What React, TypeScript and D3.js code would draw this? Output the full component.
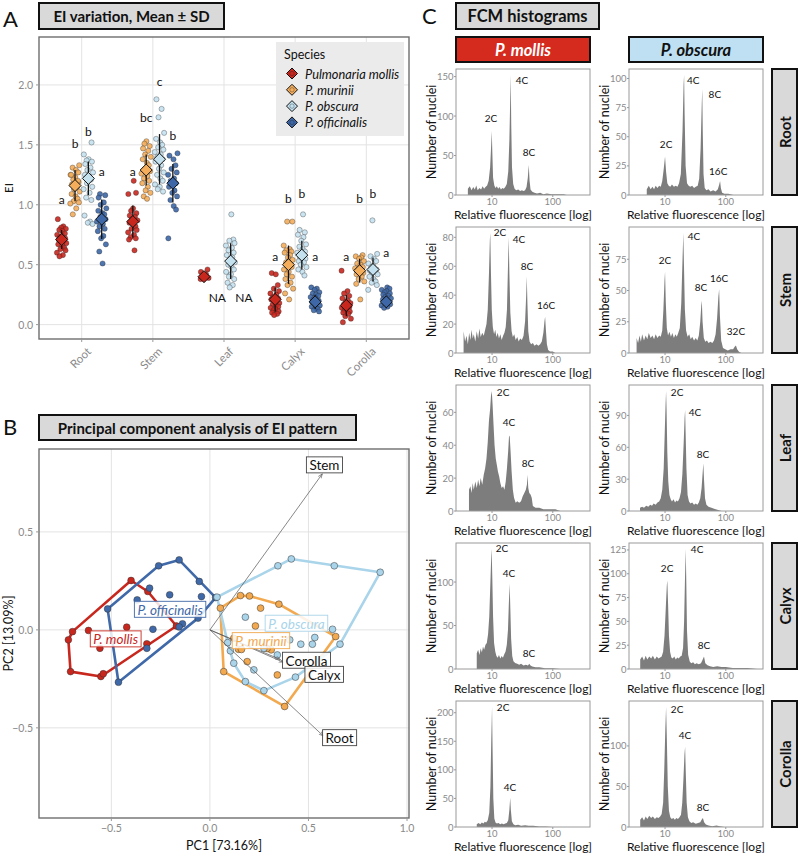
import React from 'react';
import * as d3 from 'd3';

const FONT = "Lato, 'Open Sans', sans-serif";

// ================= Panel A data =================
const organs = ['Root', 'Stem', 'Leaf', 'Calyx', 'Corolla'];
const species = ['Pulmonaria mollis', 'P. murinii', 'P. obscura', 'P. officinalis'];
const speciesFill = ['#c8271e', '#f3ad5b', '#c4e1f0', '#3d67a6'];
const eiTicks = [0, 0.5, 1, 1.5, 2];

const rootMollis = [0.88, 0.82, 0.81, 0.8, 0.79, 0.78, 0.76, 0.75, 0.74, 0.73, 0.72, 0.71, 0.7, 0.69, 0.68, 0.67, 0.66, 0.64, 0.63, 0.62, 0.6, 0.58, 0.57];
const rootMurinii = [1.33, 1.31, 1.29, 1.27, 1.25, 1.23, 1.21, 1.19, 1.17, 1.15, 1.13, 1.11, 1.09, 1.07, 1.05, 1.03, 1.02, 1.01, 0.97, 0.92, 1.2, 1.25];
const rootObscura = [1.52, 1.42, 1.38, 1.37, 1.36, 1.34, 1.31, 1.29, 1.27, 1.25, 1.23, 1.21, 1.18, 1.15, 1.13, 1.1, 1.06, 1.04, 0.91, 0.86, 0.85, 0.84];
const rootOfficinalis = [1.09, 1.08, 1.06, 1.02, 1.0, 0.97, 0.95, 0.93, 0.92, 0.9, 0.88, 0.86, 0.84, 0.82, 0.8, 0.78, 0.74, 0.72, 0.67, 0.61, 0.51];
const stemMollis = [1.2, 1.1, 1.09, 0.97, 0.95, 0.93, 0.91, 0.9, 0.88, 0.87, 0.85, 0.84, 0.82, 0.8, 0.79, 0.77, 0.75, 0.73, 0.72, 0.71, 0.62];
const stemMurinii = [1.53, 1.51, 1.49, 1.47, 1.45, 1.42, 1.4, 1.38, 1.35, 1.33, 1.3, 1.28, 1.26, 1.24, 1.22, 1.2, 1.18, 1.15, 1.12, 1.1, 1.07, 1.05];
const stemObscura = [1.88, 1.8, 1.73, 1.6, 1.55, 1.52, 1.5, 1.48, 1.46, 1.44, 1.42, 1.4, 1.38, 1.36, 1.33, 1.3, 1.27, 1.25, 1.22, 1.2, 1.17, 1.15, 1.13, 1.11];
const stemOfficinalis = [1.43, 1.41, 1.38, 1.33, 1.3, 1.27, 1.25, 1.22, 1.2, 1.18, 1.15, 1.12, 1.1, 1.07, 1.04, 0.99, 0.96, 0.72];
const leafMollis = [0.46, 0.44, 0.42, 0.4, 0.39, 0.38];
const leafObscura = [0.92, 0.71, 0.7, 0.68, 0.66, 0.64, 0.62, 0.6, 0.58, 0.56, 0.54, 0.52, 0.5, 0.48, 0.46, 0.44, 0.42, 0.4, 0.38, 0.35, 0.33, 0.31];
const calyxMollis = [0.43, 0.42, 0.33, 0.3, 0.28, 0.26, 0.25, 0.23, 0.22, 0.21, 0.2, 0.19, 0.18, 0.17, 0.16, 0.15, 0.14, 0.13, 0.12, 0.11, 0.1, 0.09, 0.08];
const calyxMurinii = [0.86, 0.86, 0.66, 0.63, 0.62, 0.61, 0.6, 0.58, 0.56, 0.54, 0.52, 0.5, 0.48, 0.46, 0.44, 0.42, 0.4, 0.38, 0.35, 0.33, 0.3, 0.26, 0.21];
const calyxObscura = [0.92, 0.79, 0.77, 0.75, 0.73, 0.7, 0.67, 0.65, 0.63, 0.61, 0.6, 0.58, 0.56, 0.55, 0.53, 0.52, 0.5, 0.48, 0.46, 0.44, 0.41];
const calyxOfficinalis = [0.31, 0.3, 0.29, 0.27, 0.26, 0.25, 0.24, 0.23, 0.22, 0.21, 0.2, 0.19, 0.18, 0.17, 0.16, 0.15, 0.14, 0.13, 0.12, 0.11];
const corollaMollis = [0.45, 0.28, 0.26, 0.24, 0.22, 0.2, 0.19, 0.18, 0.17, 0.16, 0.15, 0.14, 0.13, 0.12, 0.11, 0.1, 0.09, 0.07, 0.05, 0.02];
const corollaMurinii = [0.58, 0.57, 0.56, 0.55, 0.53, 0.51, 0.5, 0.48, 0.47, 0.45, 0.44, 0.43, 0.42, 0.4, 0.38, 0.36, 0.34, 0.21];
const corollaObscura = [0.87, 0.59, 0.57, 0.55, 0.53, 0.51, 0.49, 0.48, 0.46, 0.45, 0.44, 0.43, 0.42, 0.4, 0.38, 0.36, 0.35, 0.33, 0.29];
const corollaOfficinalis = [0.31, 0.3, 0.29, 0.28, 0.27, 0.26, 0.25, 0.24, 0.23, 0.22, 0.21, 0.2, 0.19, 0.18, 0.17, 0.16, 0.15, 0.14];

const meanRoot = [0.71, 1.16, 1.22, 0.88];
const meanStem = [0.86, 1.29, 1.38, 1.18];
const meanLeaf = [0.4, null, 0.53, null];
const meanCalyx = [0.21, 0.5, 0.58, 0.19];
const meanCorolla = [0.16, 0.45, 0.46, 0.19];
const sdRoot = [0.08, 0.13, 0.14, 0.165];
const sdStem = [0.135, 0.13, 0.21, 0.16];
const sdLeaf = [0.03, null, 0.15, null];
const sdCalyx = [0.1, 0.16, 0.12, 0.06];
const sdCorolla = [0.09, 0.1, 0.1, 0.05];
const letterRoot = ['a', 'b', 'b', 'a'];
const letterStem = ['a', 'bc', 'c', 'b'];
const letterCalyx = ['a', 'b', 'b', 'a'];
const letterCorolla = ['a', 'b', 'b', 'a'];
const letterYRoot = [1.04, 1.51, 1.61, 1.28];
const letterYStem = [1.28, 1.73, 2.03, 1.575];
const letterYCalyx = [0.57, 1.05, 1.09, 0.57];
const letterYCorolla = [0.57, 1.05, 1.09, 0.6];
const naY = 0.225;

const eiData = [
  [rootMollis, rootMurinii, rootObscura, rootOfficinalis],
  [stemMollis, stemMurinii, stemObscura, stemOfficinalis],
  [leafMollis, null, leafObscura, null],
  [calyxMollis, calyxMurinii, calyxObscura, calyxOfficinalis],
  [corollaMollis, corollaMurinii, corollaObscura, corollaOfficinalis],
];
const eiMean = [meanRoot, meanStem, meanLeaf, meanCalyx, meanCorolla];
const eiSd = [sdRoot, sdStem, sdLeaf, sdCalyx, sdCorolla];
const eiLetters = [letterRoot, letterStem, null, letterCalyx, letterCorolla];
const eiLetterY = [letterYRoot, letterYStem, null, letterYCalyx, letterYCorolla];

// fixed horizontal jitter pattern (px) for the dot strips
const JIT = [-3.5, 1.5, -0.5, 3.8, -2.2, 0.8, 2.9, -4.1, 0.2, -1.6, 3.2, -2.8, 1.9, -0.9, 4.2, -3.1, 0.6, 2.4, -1.2, 3.5, -4.3, 1.1, -2.0, 2.7];

// ================= Panel B data (PCA) =================
const pcaNames = ['P. mollis', 'P. murinii', 'P. obscura', 'P. officinalis'];
const pcaColors = ['#c8271e', '#f2a94f', '#a9d4ea', '#3f69a8'];
const pcaMollis = [[-0.4, 0.252], [-0.315, 0.196], [-0.697, -0.009], [-0.718, -0.051], [-0.707, -0.213], [-0.553, -0.238], [-0.541, -0.224], [-0.616, -0.003], [-0.558, -0.094], [-0.422, 0.014], [-0.32, -0.071], [-0.17, 0.02]];
const pcaMurinii = [[0.053, 0.111], [0.155, 0.175], [0.201, 0.173], [0.35, 0.131], [0.257, 0.111], [0.231, 0.02], [0.638, -0.034], [0.379, -0.391], [0.07, -0.213], [0.342, -0.23], [0.189, -0.162], [0.145, -0.099], [0.311, -0.102], [0.121, -0.043], [0.29, -0.095], [0.16, -0.1]];
const pcaObscura = [[0.036, 0.167], [0.345, 0.327], [0.413, 0.362], [0.631, 0.327], [0.864, 0.294], [0.66, -0.073], [0.434, -0.241], [0.274, -0.31], [0.18, -0.264], [0.121, -0.17], [0.104, -0.107], [0.09, -0.065], [0.18, 0.065], [0.622, 0.003], [0.532, -0.039], [0.52, -0.073], [0.461, -0.073], [0.405, -0.051], [0.342, -0.128], [0.274, -0.094], [0.223, -0.204]];
const pcaOfficinalis = [[-0.519, 0.107], [-0.26, 0.327], [-0.156, 0.357], [-0.054, 0.247], [0.029, 0.165], [-0.06, 0.06], [-0.139, 0.031], [-0.156, 0.015], [-0.32, -0.094], [-0.464, -0.267], [-0.306, 0.213], [-0.204, 0.179], [-0.043, 0.17], [-0.369, 0.153], [-0.289, 0.003]];
const pcaPoints = [pcaMollis, pcaMurinii, pcaObscura, pcaOfficinalis];
const pcaLabelPos = [[-0.478, -0.046], [0.259, -0.055], [0.439, 0.034], [-0.202, 0.105]];
const loadOrgans = ['Stem', 'Corolla', 'Calyx', 'Root'];
const loadPC1 = [0.57, 0.372, 0.355, 0.575];
const loadPC2 = [0.796, -0.165, -0.15, -0.541];
const loadLabelPos = [[0.581, 0.842], [0.49, -0.155], [0.58, -0.227], [0.658, -0.55]];
const pcTicksX = [-0.5, 0, 0.5, 1.0];
const pcTicksY = [-0.5, 0, 0.5];

// ================= Panel C data (FCM histograms) =================
const histOrgans = ['Root', 'Stem', 'Leaf', 'Calyx', 'Corolla'];
const histSpecies = ['P. mollis', 'P. obscura'];
const hRootMollis = [[4.0, 0], [4.0, 8], [4.3, 11], [4.6, 6], [4.9, 10], [5.2, 7], [5.5, 12], [5.8, 6], [6.2, 9], [6.6, 7], [7.0, 11], [7.4, 8], [7.8, 10], [8.3, 12], [8.8, 18], [9.3, 35], [9.7, 65], [9.9, 81], [10.1, 55], [10.4, 22], [10.9, 12], [11.4, 9], [12.0, 11], [12.6, 8], [13.3, 10], [14.0, 7], [14.8, 9], [15.6, 8], [16.5, 10], [17.5, 14], [18.5, 30], [19.3, 70], [19.9, 120], [20.3, 152], [20.7, 90], [21.3, 35], [22.3, 14], [23.5, 8], [25, 6], [27, 7], [29, 5], [31, 6], [33, 5], [35, 6], [37, 10], [38.8, 22], [40.2, 38], [41.5, 18], [43, 7], [46, 4], [50, 3], [55, 2], [62, 3], [70, 1], [80, 2], [95, 1], [120, 1], [150, 1], [170, 0]];
const hRootObscura = [[5.0, 0], [5.0, 5], [5.4, 8], [5.8, 5], [6.2, 7], [6.6, 5], [7.0, 8], [7.5, 6], [8.0, 8], [8.5, 7], [9.0, 12], [9.5, 22], [10.0, 33], [10.4, 20], [10.9, 10], [11.5, 8], [12.2, 7], [13, 9], [14, 7], [15, 8], [16, 7], [17, 10], [18.2, 18], [19.4, 55], [20.2, 95], [20.6, 103], [21, 70], [21.8, 25], [23, 10], [24.5, 8], [26, 7], [28, 8], [30, 6], [32, 7], [34.5, 8], [36.5, 14], [38.5, 40], [40.3, 80], [41, 91], [41.8, 55], [43, 18], [45, 6], [48, 4], [52, 5], [56, 3], [62, 4], [68, 3], [74, 5], [78, 9], [80.6, 12], [83, 6], [87, 2], [95, 1], [110, 1], [133, 0]];
const hStemMollis = [[3.4, 0], [3.4, 15], [3.6, 8], [3.8, 12], [4.0, 6], [4.2, 14], [4.4, 9], [4.6, 16], [4.8, 10], [5.0, 13], [5.3, 8], [5.6, 15], [5.9, 10], [6.2, 17], [6.5, 11], [6.9, 14], [7.3, 12], [7.7, 16], [8.1, 20], [8.5, 30], [8.9, 55], [9.2, 78], [9.35, 83], [9.6, 55], [9.9, 30], [10.3, 18], [10.8, 13], [11.3, 16], [11.8, 11], [12.4, 14], [13, 10], [13.7, 13], [14.4, 9], [15.2, 12], [16, 14], [16.8, 18], [17.6, 30], [18.3, 60], [18.8, 80], [19.3, 55], [20, 28], [21, 15], [22, 11], [23.2, 13], [24.5, 9], [26, 11], [27.5, 8], [29, 10], [31, 9], [33, 12], [35, 22], [36.5, 40], [37.3, 53], [38.2, 35], [39.5, 15], [41.5, 8], [44, 6], [47, 7], [50, 5], [54, 6], [58, 5], [62, 6], [66, 8], [70, 14], [73, 22], [74.8, 25], [77, 16], [80, 6], [84, 2], [90, 1], [100, 1], [110, 0]];
const hStemObscura = [[3.4, 0], [3.4, 12], [3.6, 8], [3.8, 14], [4.0, 9], [4.2, 15], [4.5, 10], [4.8, 14], [5.1, 11], [5.4, 16], [5.8, 12], [6.2, 14], [6.6, 11], [7.0, 15], [7.5, 12], [8.0, 14], [8.5, 13], [9.0, 18], [9.4, 35], [9.8, 58], [10, 65], [10.3, 40], [10.7, 20], [11.2, 14], [11.8, 17], [12.5, 13], [13.2, 16], [14, 12], [14.8, 15], [15.6, 13], [16.5, 16], [17.5, 20], [18.5, 40], [19.4, 75], [20, 96], [20.5, 70], [21.2, 35], [22.2, 18], [23.5, 13], [25, 15], [26.5, 11], [28, 13], [30, 10], [32, 12], [34, 10], [36, 14], [38, 25], [39.5, 38], [40.3, 42], [41.5, 25], [43.5, 12], [46, 9], [49, 10], [52, 8], [56, 9], [60, 8], [64, 10], [68, 15], [72, 28], [75.5, 45], [77.8, 51], [80, 30], [84, 10], [90, 4], [98, 3], [108, 2], [120, 3], [132, 3], [140, 5], [147, 6], [154, 3], [165, 1], [180, 0]];
const hLeafMollis = [[4.17, 0], [4.17, 13], [4.4, 15], [4.6, 11], [4.8, 17], [5.0, 13], [5.3, 18], [5.6, 14], [5.9, 19], [6.2, 15], [6.5, 20], [6.9, 16], [7.3, 22], [7.7, 26], [8.1, 32], [8.5, 42], [8.9, 55], [9.3, 62], [9.6, 70], [9.9, 73], [10.2, 65], [10.6, 52], [11, 40], [11.5, 32], [12, 28], [12.5, 24], [13.1, 21], [13.7, 17], [14.4, 14], [15.2, 15], [16, 13], [16.8, 18], [17.6, 26], [18.4, 36], [19, 45], [19.5, 46], [20.2, 36], [21, 24], [22, 13], [23, 8], [24.5, 5], [26, 6], [28, 5], [30, 6], [32, 9], [34, 11], [36, 13], [37.5, 16], [38.4, 22], [39.5, 14], [41, 11], [43, 10], [45, 8], [47, 3], [52, 2], [60, 2], [70, 1], [85, 1], [110, 1], [133, 0]];
const hLeafObscura = [[3.87, 0], [3.87, 3], [4.2, 4], [4.5, 3], [4.9, 5], [5.3, 4], [5.7, 6], [6.1, 5], [6.5, 7], [7, 6], [7.5, 8], [8, 9], [8.5, 12], [9, 20], [9.5, 40], [9.9, 75], [10.2, 100], [10.4, 113], [10.6, 95], [10.9, 55], [11.3, 28], [11.8, 15], [12.4, 11], [13, 9], [13.8, 11], [14.6, 8], [15.4, 10], [16.3, 9], [17.3, 12], [18.3, 18], [19.3, 35], [20.3, 65], [21, 88], [21.4, 95], [21.8, 75], [22.5, 40], [23.5, 15], [24.8, 9], [26.2, 7], [28, 8], [30, 6], [32, 7], [34, 6], [36, 8], [38, 12], [40, 22], [41.5, 35], [42.7, 45], [43.8, 30], [45.5, 12], [48, 6], [52, 4], [58, 3], [66, 2], [75, 1], [85, 0]];
const hCalyxMollis = [[5.6, 0], [5.6, 18], [5.9, 22], [6.2, 16], [6.5, 24], [6.8, 19], [7.1, 26], [7.4, 22], [7.8, 28], [8.2, 30], [8.6, 40], [9.0, 60], [9.4, 100], [9.7, 130], [9.85, 138], [10.1, 105], [10.4, 60], [10.8, 30], [11.3, 20], [11.8, 15], [12.4, 13], [13, 16], [13.7, 12], [14.4, 15], [15.1, 13], [15.9, 17], [16.7, 20], [17.5, 28], [18.3, 45], [18.9, 75], [19.5, 98], [20, 70], [20.6, 35], [21.5, 15], [22.5, 9], [24, 7], [26, 6], [28, 5], [30, 6], [33, 4], [36, 5], [39, 4], [41, 6], [43, 4], [46, 3], [52, 2], [60, 2], [75, 1], [100, 1], [133, 0]];
const hCalyxObscura = [[3.9, 0], [3.9, 10], [4.2, 13], [4.5, 9], [4.8, 14], [5.1, 10], [5.5, 13], [5.9, 11], [6.3, 14], [6.8, 10], [7.3, 13], [7.8, 11], [8.3, 12], [8.8, 13], [9.3, 18], [9.8, 35], [10.3, 65], [10.7, 88], [10.9, 93], [11.2, 70], [11.6, 35], [12.1, 18], [12.7, 12], [13.4, 11], [14.2, 13], [15, 10], [15.9, 12], [16.8, 11], [17.8, 13], [18.8, 14], [19.8, 22], [20.6, 50], [21.3, 95], [21.9, 126], [22.4, 90], [23, 40], [24, 15], [25.5, 8], [27, 6], [29, 7], [31, 5], [33, 6], [36, 5], [39, 6], [41, 9], [43.8, 13], [46, 6], [50, 4], [55, 3], [62, 2], [72, 3], [85, 2], [100, 2], [130, 1], [170, 1], [230, 1], [330, 0]];
const hCorollaMollis = [[5.6, 0], [5.6, 5], [6, 7], [6.4, 5], [6.8, 8], [7.2, 6], [7.6, 9], [8, 8], [8.5, 12], [9, 25], [9.4, 70], [9.7, 150], [10, 210], [10.2, 140], [10.5, 50], [10.9, 15], [11.4, 8], [12, 6], [12.8, 7], [13.6, 5], [14.5, 6], [15.5, 5], [16.5, 6], [17.5, 7], [18.5, 12], [19.3, 30], [19.9, 51], [20.4, 30], [21.2, 10], [22.5, 5], [24, 3], [27, 4], [30, 2], [35, 3], [40, 2], [48, 2], [60, 1], [75, 1], [100, 0]];
const hCorollaObscura = [[3.9, 0], [3.9, 9], [4.2, 12], [4.5, 8], [4.8, 13], [5.1, 10], [5.5, 14], [5.9, 11], [6.3, 13], [6.8, 10], [7.3, 12], [7.8, 11], [8.3, 13], [8.8, 16], [9.3, 30], [9.7, 70], [10.1, 120], [10.4, 148], [10.7, 110], [11.1, 50], [11.6, 20], [12.2, 12], [12.9, 10], [13.7, 11], [14.5, 9], [15.4, 11], [16.3, 10], [17.3, 12], [18.3, 15], [19.2, 30], [20.1, 60], [20.9, 90], [21.4, 99], [21.9, 70], [22.7, 30], [23.8, 12], [25.2, 7], [27, 5], [29, 6], [32, 4], [35, 5], [38, 6], [40, 9], [42, 11], [44, 6], [47, 3], [52, 2], [60, 1], [70, 2], [80, 1], [95, 0]];

const pRootMollis = [['2C', 9.6, 98], ['4C', 31, 146], ['8C', 40.5, 54]];
const pRootObscura = [['2C', 10.4, 44], ['4C', 29, 98.6], ['8C', 66, 87], ['16C', 75, 21]];
const pStemMollis = [['2C', 13.5, 83.6], ['4C', 27.8, 78.6], ['8C', 37.5, 60], ['16C', 77.5, 33]];
const pStemObscura = [['2C', 10, 74.5], ['4C', 30, 94], ['8C', 39, 52.6], ['16C', 77.5, 60], ['32C', 147, 17.8]];
const pLeafMollis = [['2C', 15.2, 72.4], ['4C', 19, 54], ['8C', 39, 29]];
const pLeafObscura = [['2C', 15.8, 112], ['4C', 31, 93], ['8C', 42, 53.8]];
const pCalyxMollis = [['2C', 14.6, 139], ['4C', 19, 110], ['8C', 40.5, 18.5]];
const pCalyxObscura = [['2C', 10.8, 106], ['4C', 33.7, 126], ['8C', 43.8, 25.6]];
const pCorollaMollis = [['2C', 15.2, 210.6], ['4C', 19.8, 70.8]];
const pCorollaObscura = [['2C', 15.8, 146], ['4C', 21.3, 114], ['8C', 42, 25]];

const histData = [
  [hRootMollis, hRootObscura],
  [hStemMollis, hStemObscura],
  [hLeafMollis, hLeafObscura],
  [hCalyxMollis, hCalyxObscura],
  [hCorollaMollis, hCorollaObscura],
];
const peakLabels = [
  [pRootMollis, pRootObscura],
  [pStemMollis, pStemObscura],
  [pLeafMollis, pLeafObscura],
  [pCalyxMollis, pCalyxObscura],
  [pCorollaMollis, pCorollaObscura],
];
const histYTicks = [
  [[0, 50, 100, 150], [0, 25, 50, 75, 100]],
  [[0, 20, 40, 60, 80], [0, 25, 50, 75]],
  [[0, 20, 40, 60], [0, 30, 60, 90]],
  [[0, 50, 100], [0, 25, 50, 75, 100, 125]],
  [[0, 50, 100, 150, 200], [0, 50, 100]],
];
const histXTicks = [10, 100];

// ================= helpers =================
let _ctx: CanvasRenderingContext2D | null = null;
function textWidth(t: string, font: string) {
  if (!_ctx) _ctx = document.createElement('canvas').getContext('2d');
  _ctx!.font = font;
  return _ctx!.measureText(t).width;
}

const GRID = '#e3e3e3';
const AXIS_TXT = '#8a8a8a';

function TitleBox({ x, y, w, h, text, size = 15 }: any) {
  return (
    <g>
      <rect x={x} y={y} width={w} height={h} fill="#d9d9d9" stroke="#111" strokeWidth={2} />
      <text x={x + w / 2} y={y + h / 2} textAnchor="middle" dominantBaseline="central" fontSize={size} fontWeight={700} fill="#111">{text}</text>
    </g>
  );
}

function Diamond({ cx, cy, r, fill, stroke = '#111', sw = 1 }: any) {
  return <path d={`M${cx},${cy - r}L${cx + r},${cy}L${cx},${cy + r}L${cx - r},${cy}Z`} fill={fill} stroke={stroke} strokeWidth={sw} />;
}

// ================= Panel A =================
function PanelA() {
  const L = 39, R = 409, T = 37, B = 339;
  const x = d3.scalePoint<string>().domain(organs).range([L, R]).padding(0.6);
  const step = x.step();
  const dx = d3.scaleBand<string>().domain(species).range([-0.375 * step, 0.375 * step]);
  const y = d3.scaleLinear().domain([-0.12, 2.4]).range([B, T]);
  const sx = (oi: number, si: number) => (x(organs[oi]) as number) + (dx(species[si]) as number) + dx.bandwidth() / 2;

  const marks: any[] = [];
  eiData.forEach((row, oi) => {
    row.forEach((vals, si) => {
      const cx = sx(oi, si);
      if (!vals) {
        marks.push(<text key={`na${oi}${si}`} x={cx} y={y(naY)} textAnchor="middle" dominantBaseline="central" fontSize={12} fill="#111">NA</text>);
        return;
      }
      vals.forEach((v, i) => {
        marks.push(<circle key={`p${oi}${si}${i}`} cx={cx + JIT[(i + oi * 5 + si * 3) % JIT.length] * 1.1} cy={y(v)} r={2.6} fill={speciesFill[si]} fillOpacity={0.9} stroke="#222" strokeOpacity={0.55} strokeWidth={0.6} />);
      });
    });
  });
  const means: any[] = [];
  eiMean.forEach((row, oi) => {
    row.forEach((m, si) => {
      if (m == null) return;
      const cx = sx(oi, si);
      const sd = eiSd[oi][si] as number;
      means.push(<line key={`e${oi}${si}`} x1={cx} x2={cx} y1={y(m - sd)} y2={y(m + sd)} stroke="#111" strokeWidth={1.3} />);
      means.push(<Diamond key={`d${oi}${si}`} cx={cx} cy={y(m)} r={6} fill={speciesFill[si]} />);
    });
  });
  const letters: any[] = [];
  eiLetters.forEach((row, oi) => {
    if (!row) return;
    row.forEach((l, si) => {
      letters.push(<text key={`l${oi}${si}`} x={sx(oi, si)} y={y((eiLetterY[oi] as number[])[si])} textAnchor="middle" dominantBaseline="central" fontSize={12} fill="#111">{l}</text>);
    });
  });

  return (
    <g>
      <text x={3} y={27} fontSize={22} fill="#111">A</text>
      <TitleBox x={39} y={3} w={185} h={26} text="EI variation, Mean ± SD" />
      <rect x={L} y={T} width={R - L} height={B - T} fill="#fff" />
      {eiTicks.map(t => <line key={t} x1={L} x2={R} y1={y(t)} y2={y(t)} stroke={GRID} strokeWidth={1} />)}
      {organs.map(o => <line key={o} x1={x(o)} x2={x(o)} y1={T} y2={B} stroke={GRID} strokeWidth={1} />)}
      {marks}
      {means}
      {letters}
      <rect x={L} y={T} width={R - L} height={B - T} fill="none" stroke="#6e6e6e" strokeWidth={1.4} />
      {eiTicks.map(t => (
        <g key={t}>
          <line x1={L - 3} x2={L} y1={y(t)} y2={y(t)} stroke="#999" />
          <text x={L - 6} y={y(t)} textAnchor="end" dominantBaseline="central" fontSize={10.5} fill={AXIS_TXT}>{t.toFixed(1)}</text>
        </g>
      ))}
      {organs.map(o => (
        <g key={o}>
          <line x1={x(o)} x2={x(o)} y1={B} y2={B + 3} stroke="#999" />
          <text transform={`translate(${(x(o) as number) + 4},${B + 7}) rotate(-45)`} textAnchor="end" dominantBaseline="hanging" fontSize={11.5} fill={AXIS_TXT}>{o}</text>
        </g>
      ))}
      <text transform={`translate(13,${(T + B) / 2}) rotate(-90)`} textAnchor="middle" fontSize={11.5} fill="#111">EI</text>
      {/* legend */}
      <rect x={276} y={42} width={128} height={94} fill="#ebebeb" />
      <text x={284} y={59} fontSize={12.5} fill="#111">Species</text>
      {species.map((s, i) => (
        <g key={s}>
          <Diamond cx={292} cy={73.5 + i * 16.3} r={5.5} fill={speciesFill[i]} />
          <circle cx={292} cy={73.5 + i * 16.3} r={2.2} fill={speciesFill[i]} stroke="#222" strokeOpacity={0.6} strokeWidth={0.6} />
          <text x={305} y={73.5 + i * 16.3} dominantBaseline="central" fontSize={12.8} fontStyle="italic" fill="#111">{s}</text>
        </g>
      ))}
    </g>
  );
}

// ================= Panel B =================
function LabelBox({ cx, cy, text, color, italic, border }: any) {
  const fs = 13.5;
  const w = textWidth(text, `${italic ? 'italic ' : ''}${fs}px Lato`) + 6;
  const h = 16;
  return (
    <g>
      <rect x={cx - w / 2} y={cy - h / 2} width={w} height={h} fill="#fff" fillOpacity={0.85} stroke={border} strokeWidth={0.9} />
      <text x={cx} y={cy + 0.5} textAnchor="middle" dominantBaseline="central" fontSize={fs} fontStyle={italic ? 'italic' : 'normal'} fill={color}>{text}</text>
    </g>
  );
}

function PanelB() {
  const L = 39, R = 409, T = 449, B = 818;
  const x = d3.scaleLinear().domain([-0.867, 1.01]).range([L, R]);
  const y = d3.scaleLinear().domain([-0.96, 0.923]).range([B, T]);
  const order = [0, 3, 1, 2];
  return (
    <g>
      <text x={3} y={435} fontSize={22} fill="#111">B</text>
      <TitleBox x={39} y={415} w={317} h={25} text="Principal component analysis of EI pattern" />
      <defs>
        <clipPath id="clipB"><rect x={L} y={T} width={R - L} height={B - T} /></clipPath>
        <marker id="arrowB" viewBox="0 0 10 10" refX={9} refY={5} markerWidth={7} markerHeight={7} orient="auto">
          <path d="M0,1.5L9,5L0,8.5" fill="none" stroke="#555" strokeWidth={1.2} />
        </marker>
      </defs>
      {pcTicksX.map(t => <line key={'gx' + t} x1={x(t)} x2={x(t)} y1={T} y2={B} stroke={GRID} />)}
      {pcTicksY.map(t => <line key={'gy' + t} x1={L} x2={R} y1={y(t)} y2={y(t)} stroke={GRID} />)}
      <g clipPath="url(#clipB)">
        {order.map(si => {
          const pts = pcaPoints[si].map(p => [x(p[0]), y(p[1])] as [number, number]);
          const hull = d3.polygonHull(pts)!;
          return <path key={'h' + si} d={'M' + hull.map(p => p.join(',')).join('L') + 'Z'} fill="none" stroke={pcaColors[si]} strokeWidth={2.6} strokeLinejoin="round" />;
        })}
        {order.map(si => (
          <g key={'pts' + si}>
            {pcaPoints[si].map((p, i) => <circle key={i} cx={x(p[0])} cy={y(p[1])} r={3.4} fill={pcaColors[si]} stroke="#333" strokeOpacity={0.7} strokeWidth={0.7} />)}
          </g>
        ))}
        {loadOrgans.map((o, i) => (
          <line key={'a' + o} x1={x(0)} y1={y(0)} x2={x(loadPC1[i])} y2={y(loadPC2[i])} stroke="#555" strokeWidth={0.7} markerEnd="url(#arrowB)" />
        ))}
        {pcaNames.map((n, si) => (
          <LabelBox key={'sl' + n} cx={x(pcaLabelPos[si][0])} cy={y(pcaLabelPos[si][1])} text={n} color={pcaColors[si]} border={pcaColors[si]} italic />
        ))}
        {loadOrgans.map((o, i) => (
          <LabelBox key={'ol' + o} cx={x(loadLabelPos[i][0])} cy={y(loadLabelPos[i][1])} text={o} color="#111" border="#444" />
        ))}
      </g>
      <rect x={L} y={T} width={R - L} height={B - T} fill="none" stroke="#6e6e6e" strokeWidth={1.4} />
      {pcTicksX.map(t => (
        <g key={'tx' + t}>
          <line x1={x(t)} x2={x(t)} y1={B} y2={B + 3} stroke="#999" />
          <text x={x(t)} y={B + 14} textAnchor="middle" fontSize={10.5} fill={AXIS_TXT}>{t.toFixed(1).replace('-', '\u2212')}</text>
        </g>
      ))}
      {pcTicksY.map(t => (
        <g key={'ty' + t}>
          <line x1={L - 3} x2={L} y1={y(t)} y2={y(t)} stroke="#999" />
          <text x={L - 6} y={y(t)} textAnchor="end" dominantBaseline="central" fontSize={10.5} fill={AXIS_TXT}>{t.toFixed(1).replace('-', '\u2212')}</text>
        </g>
      ))}
      <text x={(L + R) / 2} y={850} textAnchor="middle" fontSize={12.5} fill="#111">PC1 [73.16%]</text>
      <text transform={`translate(13,${(T + B) / 2}) rotate(-90)`} textAnchor="middle" fontSize={12.5} fill="#111">PC2 [13.09%]</text>
    </g>
  );
}

// ================= Panel C =================
function Histogram({ left, top, data, ticks, labels }: any) {
  const W = 134, H = 126;
  const ymax = (d3.max(data, (d: any) => d[1]) as number) * 1.05;
  const x = d3.scaleLog().domain([2.55, 410]).range([left, left + W]);
  const y = d3.scaleLinear().domain([0, ymax]).range([top + H, top]);
  const area = d3.area<any>().x(d => x(d[0])).y0(y(0)).y1(d => y(d[1]));
  const cid = `clipH${left}_${top}`;
  return (
    <g>
      <defs><clipPath id={cid}><rect x={left} y={top} width={W} height={H} /></clipPath></defs>
      <g clipPath={`url(#${cid})`}>
        <path d={area(data) as string} fill="#7d7d7d" />
      </g>
      {labels.map((l: any, i: number) => (
        <text key={i} x={x(l[1])} y={y(l[2])} textAnchor="middle" dominantBaseline="central" fontSize={10} fill="#111">{l[0]}</text>
      ))}
      <rect x={left} y={top} width={W} height={H} fill="none" stroke="#9a9a9a" strokeWidth={1} />
      {ticks.map((t: number) => (
        <g key={t}>
          <line x1={left - 2} x2={left} y1={y(t)} y2={y(t)} stroke="#999" />
          <text x={left - 2.5} y={y(t)} textAnchor="end" dominantBaseline="central" fontSize={9.5} fill={AXIS_TXT}>{t}</text>
        </g>
      ))}
      {histXTicks.map(t => (
        <g key={'x' + t}>
          <line x1={x(t)} x2={x(t)} y1={top + H} y2={top + H + 2} stroke="#999" />
          <text x={x(t)} y={top + H + 10} textAnchor="middle" fontSize={9.5} fill={AXIS_TXT}>{t}</text>
        </g>
      ))}
      <text x={left + W / 2} y={top + H + 23.5} textAnchor="middle" fontSize={12} fill="#111">Relative fluorescence [log]</text>
      <text transform={`translate(${left - 20},${top + H / 2}) rotate(-90)`} textAnchor="middle" fontSize={12.5} fill="#111">Number of nuclei</text>
    </g>
  );
}

function PanelC() {
  const colLeft = [456, 629];
  const rowTop = [69, 227, 385, 543, 701];
  return (
    <g>
      <text x={422} y={24} fontSize={22} fill="#111">C</text>
      <TitleBox x={456} y={3} w={143} h={26} text="FCM histograms" size={16.5} />
      <rect x={456} y={37} width={134} height={25} fill="#d52a1e" stroke="#111" strokeWidth={2} />
      <text x={523} y={49.5} textAnchor="middle" dominantBaseline="central" fontSize={16.5} fontWeight={700} fontStyle="italic" fill="#fff">{histSpecies[0]}</text>
      <rect x={629} y={37} width={134} height={25} fill="#bfe0f3" stroke="#111" strokeWidth={2} />
      <text x={696} y={49.5} textAnchor="middle" dominantBaseline="central" fontSize={16.5} fontWeight={700} fontStyle="italic" fill="#111">{histSpecies[1]}</text>
      {histOrgans.map((o, ri) => (
        <g key={o}>
          {[0, 1].map(ci => (
            <Histogram key={ci} left={colLeft[ci]} top={rowTop[ri]} data={histData[ri][ci]} ticks={histYTicks[ri][ci]} labels={peakLabels[ri][ci]} />
          ))}
          <rect x={772} y={rowTop[ri]} width={25} height={126} fill="#d9d9d9" stroke="#111" strokeWidth={2} />
          <text transform={`translate(${784.5},${rowTop[ri] + 63}) rotate(-90)`} textAnchor="middle" dominantBaseline="central" fontSize={15} fontWeight={700} fill="#111">{o}</text>
        </g>
      ))}
    </g>
  );
}

export default function App() {
  return (
    <div style={{ position: 'absolute', left: 0, top: 0 }}>
      <svg width={800} height={854} style={{ display: 'block', fontFamily: FONT }}>
        <rect width={800} height={854} fill="#fff" />
        <PanelA />
        <PanelB />
        <PanelC />
      </svg>
    </div>
  );
}
